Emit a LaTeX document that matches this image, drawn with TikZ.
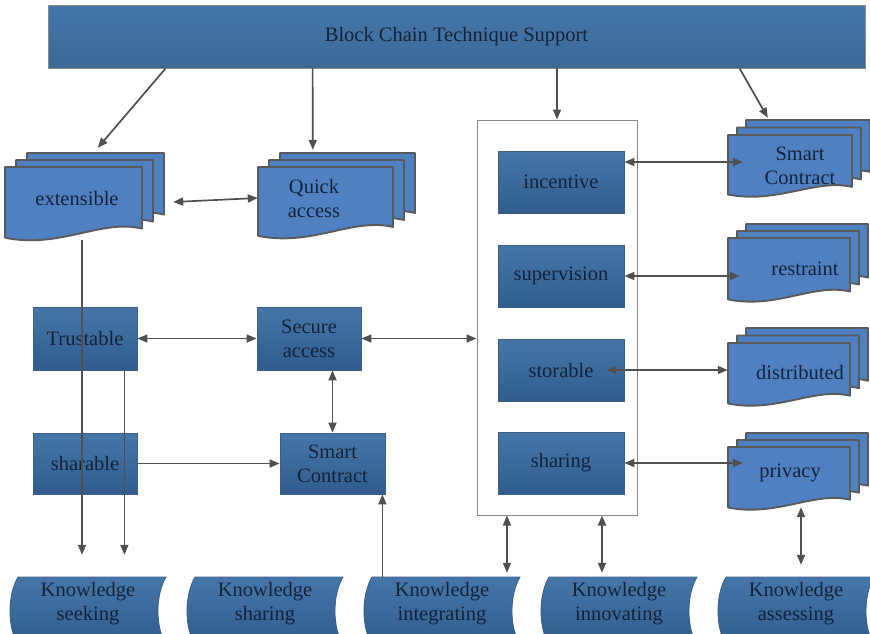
\documentclass[tikz,border=0pt]{standalone}
\usepackage{fontspec}
\setmainfont{Liberation Serif}
\usetikzlibrary{arrows.meta,calc}

\definecolor{ink}{HTML}{14233A}
\definecolor{docfill}{HTML}{4F81C2}
\definecolor{docline}{HTML}{5A5A5A}
\definecolor{boxtop}{HTML}{4676A9}
\definecolor{boxbot}{HTML}{2F5C8D}
\definecolor{boxline}{HTML}{3C5F86}
\definecolor{bartop}{HTML}{4577AB}
\definecolor{barbot}{HTML}{3B6996}
\definecolor{lineC}{HTML}{505050}
\definecolor{frameC}{HTML}{8A8A8A}

\tikzset{
  base/.style={font=\fontsize{20.5}{24}\selectfont, text=ink, align=center, inner sep=0pt},
  blockbox/.style={base, draw=boxline, line width=0.8pt, top color=boxtop, bottom color=boxbot},
  topbar/.style={base, draw=frameC, line width=0.8pt, top color=bartop, bottom color=barbot},
  frame/.style={draw=frameC, line width=1pt, fill=white, inner sep=0pt},
  docsty/.style={fill=docfill, draw=docline, line width=1.9pt, line join=round},
  bansty/.style={draw=boxline, line width=0.8pt, top color=boxtop, bottom color=boxbot},
  hold/.style={inner sep=0pt, draw=none},
  conn/.style={draw=lineC, line width=1.7pt},
  arr/.style={conn, -{Triangle[length=10pt,width=8pt]}},
  darr/.style={conn, {Triangle[length=10pt,width=8pt]}-{Triangle[length=10pt,width=8pt]}},
}

% one page with a wavy bottom edge: x, y (top), width, height
\newcommand{\docpath}[4]{%
  \pgfmathsetmacro\dpR{#1+#3}%
  \pgfmathsetmacro\dpA{#1+0.7*#3}%
  \pgfmathsetmacro\dpB{#1+0.4*#3}%
  \pgfmathsetmacro\dpYa{#2+0.81*#4}%
  \pgfmathsetmacro\dpYb{#2+0.68*#4}%
  \pgfmathsetmacro\dpYc{#2+1.08*#4}%
  \pgfmathsetmacro\dpYd{#2+0.93*#4}%
  \filldraw[docsty] (#1,#2) -- (\dpR,#2) -- (\dpR,\dpYa)
    .. controls (\dpA,\dpYb) and (\dpB,\dpYc) .. (#1,\dpYd) -- cycle;}

% three stacked pages, front one named: x, y, w, h, dx, dy, name
\newcommand{\docstack}[7]{%
  \pgfmathsetmacro\dsXb{#1+2*#5}\pgfmathsetmacro\dsYb{#2-2*#6}%
  \docpath{\dsXb}{\dsYb}{#3}{#4}%
  \pgfmathsetmacro\dsXm{#1+#5}\pgfmathsetmacro\dsYm{#2-#6}%
  \docpath{\dsXm}{\dsYm}{#3}{#4}%
  \docpath{#1}{#2}{#3}{#4}%
  \pgfmathsetmacro\dsCx{#1+#3/2}\pgfmathsetmacro\dsCy{#2+#4/2}%
  \node[hold, minimum width=#3pt, minimum height=#4pt] (#7) at (\dsCx,\dsCy) {};}

% stored-data banner: x, width, name, text
\newcommand{\banner}[4]{%
  \pgfmathsetmacro\bnL{#1+8}\pgfmathsetmacro\bnR{#1+#2}%
  \pgfmathsetmacro\bnRi{#1+#2-10.7}\pgfmathsetmacro\bnLo{#1-2.7}%
  \pgfmathsetmacro\bnC{#1+#2/2}%
  \path[bansty] (\bnL,577) -- (\bnR,577)
    .. controls (\bnRi,595) and (\bnRi,627) .. (\bnR,645)
    -- (\bnL,645) .. controls (\bnLo,627) and (\bnLo,595) .. (\bnL,577) -- cycle;
  \node[base, minimum width=#2pt, minimum height=54pt] (#3) at (\bnC,604) {#4};}

\begin{document}
\begin{tikzpicture}[x=1pt,y=-1pt]
\useasboundingbox (0,0) rectangle (870,633);
\clip (0,0) rectangle (870,633);
\fill[white] (0,0) rectangle (870,633);

% header bar
\node[topbar, minimum width=817pt, minimum height=63pt] (top) at (456.5,36.5) {Block Chain Technique Support};

% central column
\node[frame, minimum width=160pt, minimum height=395pt] (col) at (557,317.5) {};
\node[blockbox, minimum width=126pt, minimum height=62pt] (incentive) at (561,182) {incentive};
\node[blockbox, minimum width=126pt, minimum height=62pt] (supervision) at (561,276) {supervision};
\node[blockbox, minimum width=126pt, minimum height=62pt] (storable) at (561,370) {storable};
\node[blockbox, minimum width=126pt, minimum height=62pt] (sharing) at (561,463) {sharing};

% left blocks
\node[blockbox, minimum width=104pt, minimum height=63pt] (trust) at (85,338.5) {Trustable};
\node[blockbox, minimum width=104pt, minimum height=63pt] (secure) at (309,338.5) {Secure\\access};
\node[blockbox, minimum width=104pt, minimum height=61pt] (sharable) at (85,463.5) {sharable};
\node[blockbox, minimum width=105pt, minimum height=61pt] (smartM) at (332.5,463.5) {Smart\\Contract};

% document stacks
\docstack{5}{167}{137}{76}{11}{7}{ext}
\node[base] (ext-t) at (77,198) {extensible};
\docstack{258}{167}{135}{74}{11}{7}{quick}
\node[base] (quick-t) at (314,198) {Quick\\access};
\docstack{728}{135}{124}{64}{9}{7.5}{scR}
\node[base] (scR-t) at (800,166) {Smart\\Contract};
\docstack{728}{238}{122}{66}{9}{7}{restr}
\node[base] (restr-t) at (805,269) {restraint};
\docstack{728}{343}{122}{65}{9}{7.5}{dist}
\node[base] (dist-t) at (800,372) {distributed};
\docstack{728}{447}{122}{65}{9}{7}{priv}
\node[base] (priv-t) at (790,473) {privacy};

% knowledge banners
\banner{10}{156}{seek}{Knowledge\\seeking}
\banner{187}{156}{share}{Knowledge\\sharing}
\banner{364}{156}{integ}{Knowledge\\integrating}
\banner{541}{156}{innov}{Knowledge\\innovating}
\banner{718}{156}{assess}{Knowledge\\assessing}

% connectors from the header
\draw[arr] ([xshift=118pt]top.south west) -- ([xshift=93pt,yshift=19pt]ext.north west);
\draw[arr] ([xshift=265pt]top.south west) -- ([xshift=55pt,yshift=17pt]quick.north west);
\draw[arr] (col.north |- top.south) -- (col.north);
\draw[arr] ([xshift=692pt]top.south west) -- ([xshift=40pt,yshift=17pt]scR.north west);

% left part
\draw[darr] ([xshift=31pt,yshift=3pt]ext.east) -- ([yshift=6pt]quick.west);
\draw[arr] ([xshift=8.5pt,yshift=3pt]ext.south) -- ([xshift=8.5pt,yshift=22pt]ext.south |- seek.north);
\draw[arr] ([xshift=-13pt]trust.south east) -- ([xshift=-13pt,yshift=22pt]trust.south east |- seek.north);
\draw[darr] (trust.east) -- (secure.west);
\draw[darr] (secure.east) -- (secure.east -| col.west);
\draw[darr] (smartM.north |- secure.south) -- (smartM.north);
\draw[arr] (sharable.east) -- (smartM.west);
\draw[arr] ([xshift=-3pt]smartM.south east |- integ.north) -- ([xshift=-3pt]smartM.south east);

% central column to banners
\draw[darr] ([xshift=-50pt]col.south) -- ([xshift=-50pt,yshift=4pt]col.south |- integ.north);
\draw[darr] ([xshift=45pt]col.south) -- ([xshift=45pt,yshift=4pt]col.south |- innov.north);

% central column to document stacks
\draw[darr] ([yshift=20pt]incentive.east) -- ([xshift=15pt,yshift=20pt]incentive.east -| scR.west);
\draw[darr] (supervision.east) -- ([xshift=12pt]supervision.east -| restr.west);
\draw[darr] ([xshift=-18pt]storable.east) -- (storable.east -| dist.west);
\draw[darr] (sharing.east) -- ([xshift=15pt]sharing.east -| priv.west);
\draw[darr] ([xshift=12pt,yshift=5pt]priv.south) -- ([xshift=12pt,yshift=12pt]priv.south |- assess.north);
\end{tikzpicture}
\end{document}
